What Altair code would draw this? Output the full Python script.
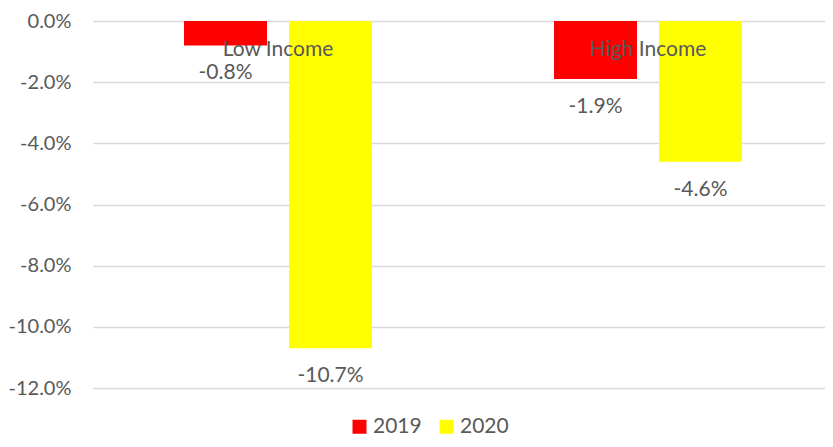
import altair as alt
import pandas as pd

categories = ["Low Income", "High Income"]
years = ["2019", "2020"]
values_2019 = [-0.008, -0.019]
values_2020 = [-0.107, -0.046]
y_ticks = [0.0, -0.02, -0.04, -0.06, -0.08, -0.10, -0.12]
colors = ["#ff0000", "#ffff00"]

rows = []
for i, c in enumerate(categories):
    rows.append({"category": c, "year": years[0], "value": values_2019[i]})
    rows.append({"category": c, "year": years[1], "value": values_2020[i]})
df = pd.DataFrame(rows)
cat_df = pd.DataFrame({"category": categories, "zero": [0.0] * len(categories)})

FONT = "Lato"
FS = 21
GREY = "#595959"
MINUS = "\u2212"

x_enc = alt.X("category:N", sort=categories, axis=None,
              scale=alt.Scale(paddingInner=0, paddingOuter=0, range=[0, 740]))
xoff_enc = alt.XOffset("year:N", sort=years,
                       scale=alt.Scale(paddingInner=0.2095, paddingOuter=0.867))
y_scale = alt.Scale(domain=[-0.12, 0], nice=False)

bars = alt.Chart(df).mark_bar().encode(
    x=x_enc,
    xOffset=xoff_enc,
    y=alt.Y("value:Q", scale=y_scale, title=None,
            axis=alt.Axis(format=".1%", values=y_ticks, domain=False, ticks=False,
                          labelExpr=f"replace(datum.label, '{MINUS}', '-')",
                          labelPadding=22, labelFont=FONT, labelFontSize=20,
                          labelColor=GREY, gridColor="#d9d9d9", gridWidth=1.5)),
    color=alt.Color("year:N", sort=years,
                    scale=alt.Scale(domain=years, range=colors),
                    legend=alt.Legend(title=None, orient="none", direction="horizontal",
                                      legendX=256, legendY=395, padding=0,
                                      symbolType="square", symbolSize=196,
                                      symbolStrokeWidth=0, symbolOpacity=1,
                                      labelFont=FONT, labelFontSize=FS, labelColor=GREY,
                                      labelOffset=3, columnPadding=14)),
)

value_labels = alt.Chart(df).transform_calculate(
    label=f"replace(format(datum.value, '.1%'), '{MINUS}', '-')"
).mark_text(
    dy=34, baseline="alphabetic", fontSize=FS, font=FONT, color=GREY
).encode(
    x=x_enc,
    xOffset=xoff_enc,
    y=alt.Y("value:Q", scale=y_scale),
    text="label:N",
)

cat_labels = alt.Chart(cat_df).mark_text(
    dy=35, baseline="alphabetic", fontSize=FS, font=FONT, color=GREY
).encode(
    x=x_enc,
    y=alt.Y("zero:Q", scale=y_scale),
    text="category:N",
)

chart = alt.layer(bars, value_labels, cat_labels).properties(
    width=732, height=367,
    background="white",
    autosize=alt.AutoSizeParams(type="none"),
    padding={"left": 85, "top": 13, "right": 0, "bottom": 49},
).configure_view(stroke=None)

chart.save("out.html", embed_options={"renderer": "svg", "actions": False})
